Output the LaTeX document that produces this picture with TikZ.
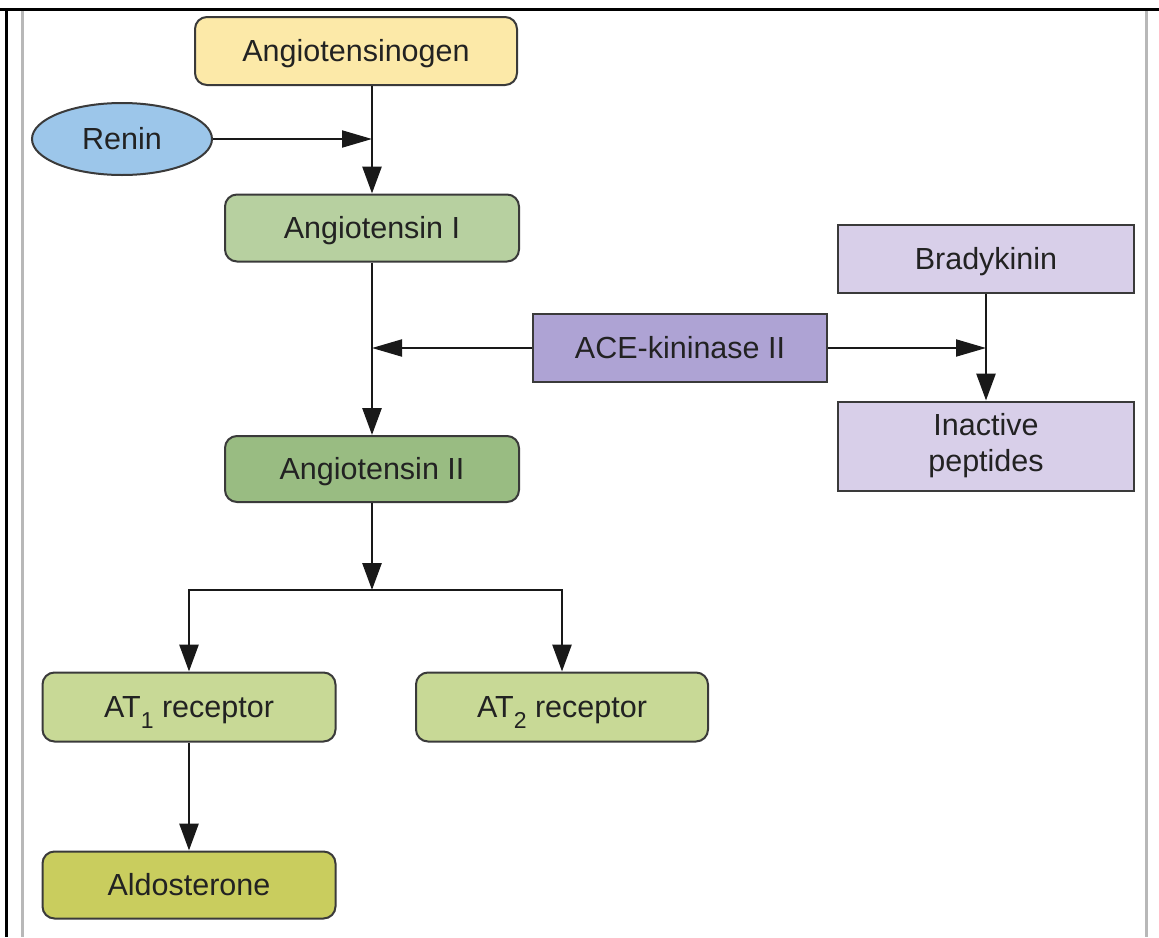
\documentclass[tikz,border=0pt]{standalone}
\usepackage{fontspec}
\setmainfont{Liberation Sans}
\usetikzlibrary{arrows.meta,shapes.geometric}
\definecolor{cyellow}{HTML}{FCE9A8}
\definecolor{cblue}{HTML}{9CC6EA}
\definecolor{cgreenA}{HTML}{B7D0A0}
\definecolor{cgreenB}{HTML}{99BC82}
\definecolor{cgreenC}{HTML}{C8D996}
\definecolor{colive}{HTML}{C9CD5E}
\definecolor{cpurple}{HTML}{AEA3D4}
\definecolor{clilac}{HTML}{D8CFE9}
\definecolor{cborder}{HTML}{3A3A3A}
\definecolor{ctext}{HTML}{222222}
\tikzset{
  box/.style={draw=cborder, line width=2pt, rounded corners=12pt, minimum width=294pt, minimum height=67pt, inner sep=0pt, align=center, text=ctext, font=\fontsize{30.5}{36}\selectfont, text height=21.8pt, text depth=0pt},
  sqbox/.style={box, rounded corners=0pt},
  oval/.style={ellipse, draw=cborder, line width=2pt, minimum width=180pt, minimum height=72pt, inner sep=0pt, text=ctext, font=\fontsize{30.5}{36}\selectfont, text height=21.8pt, text depth=0pt},
  arr/.style={draw=black!90, line width=2.8pt, -{Triangle[length=27pt,width=19pt]}},
  tharr/.style={draw=black!90, line width=2pt, -{Triangle[length=30pt,width=17pt]}},
  frame/.style={draw=black, line width=3pt},
  gframe/.style={draw=black!28, line width=3pt}
}
\newcommand{\subone}[1]{\raisebox{-0.34em}{\fontsize{23}{23}\selectfont #1}}
\begin{document}
\begin{tikzpicture}[x=1pt,y=-1pt]
\useasboundingbox (0,0) rectangle (1159,937);
\fill[white] (0,0) rectangle (1159,937);
% frame
\draw[frame] (0,9) -- (1159,9);
\draw[frame] (6,9) -- (6,937);
\draw[gframe] (22,11) -- (22,937);
\draw[gframe] (1146,11) -- (1146,937);
% nodes
\node[box, fill=cyellow, minimum width=322pt, minimum height=68pt] (ang) at (356,51) {Angiotensinogen};
\node[oval, fill=cblue] (renin) at (122,139) {Renin};
\node[box, fill=cgreenA] (ang1) at (372,228) {Angiotensin I};
\node[sqbox, fill=cpurple, minimum height=68pt] (ace) at (680,348) {ACE-kininase II};
\node[sqbox, fill=clilac, minimum width=296pt, minimum height=68pt] (brady) at (986,259) {Bradykinin};
\node[sqbox, fill=clilac, minimum width=296pt, minimum height=89pt, text height=, text depth=] (inact) at (986,446) {Inactive\\peptides};
\node[box, fill=cgreenB, minimum height=66pt] (ang2) at (372,469) {Angiotensin II};
\node[box, fill=cgreenC, minimum width=293pt, minimum height=69pt] (at1) at (189,707) {AT\subone{1} receptor};
\node[box, fill=cgreenC, minimum width=292pt, minimum height=69pt] (at2) at (562,707) {AT\subone{2} receptor};
\node[box, fill=colive, minimum width=293pt, minimum height=67pt] (aldo) at (189,885) {Aldosterone};
% junction coordinates
\coordinate (rj) at (ang1.north |- renin.east);
\coordinate (aj) at (ang1.south |- ace.west);
\coordinate (bj) at (brady.south |- ace.east);
\coordinate (jn) at (372,590);
% connectors
\draw[arr] (ang1.north |- ang.south) -- (ang1.north);
\draw[tharr] (renin.east) -- (rj);
\draw[arr] (ang1.south) -- (ang2.north);
\draw[tharr] (ace.west) -- (aj);
\draw[tharr] (ace.east) -- (bj);
\draw[arr] (brady.south) -- (inact.north);
\draw[arr] (ang2.south) -- (jn);
\draw[arr] (jn) -| (at1.north);
\draw[arr] (jn) -| (at2.north);
\draw[arr] (at1.south) -- (aldo.north);
\end{tikzpicture}
\end{document}
